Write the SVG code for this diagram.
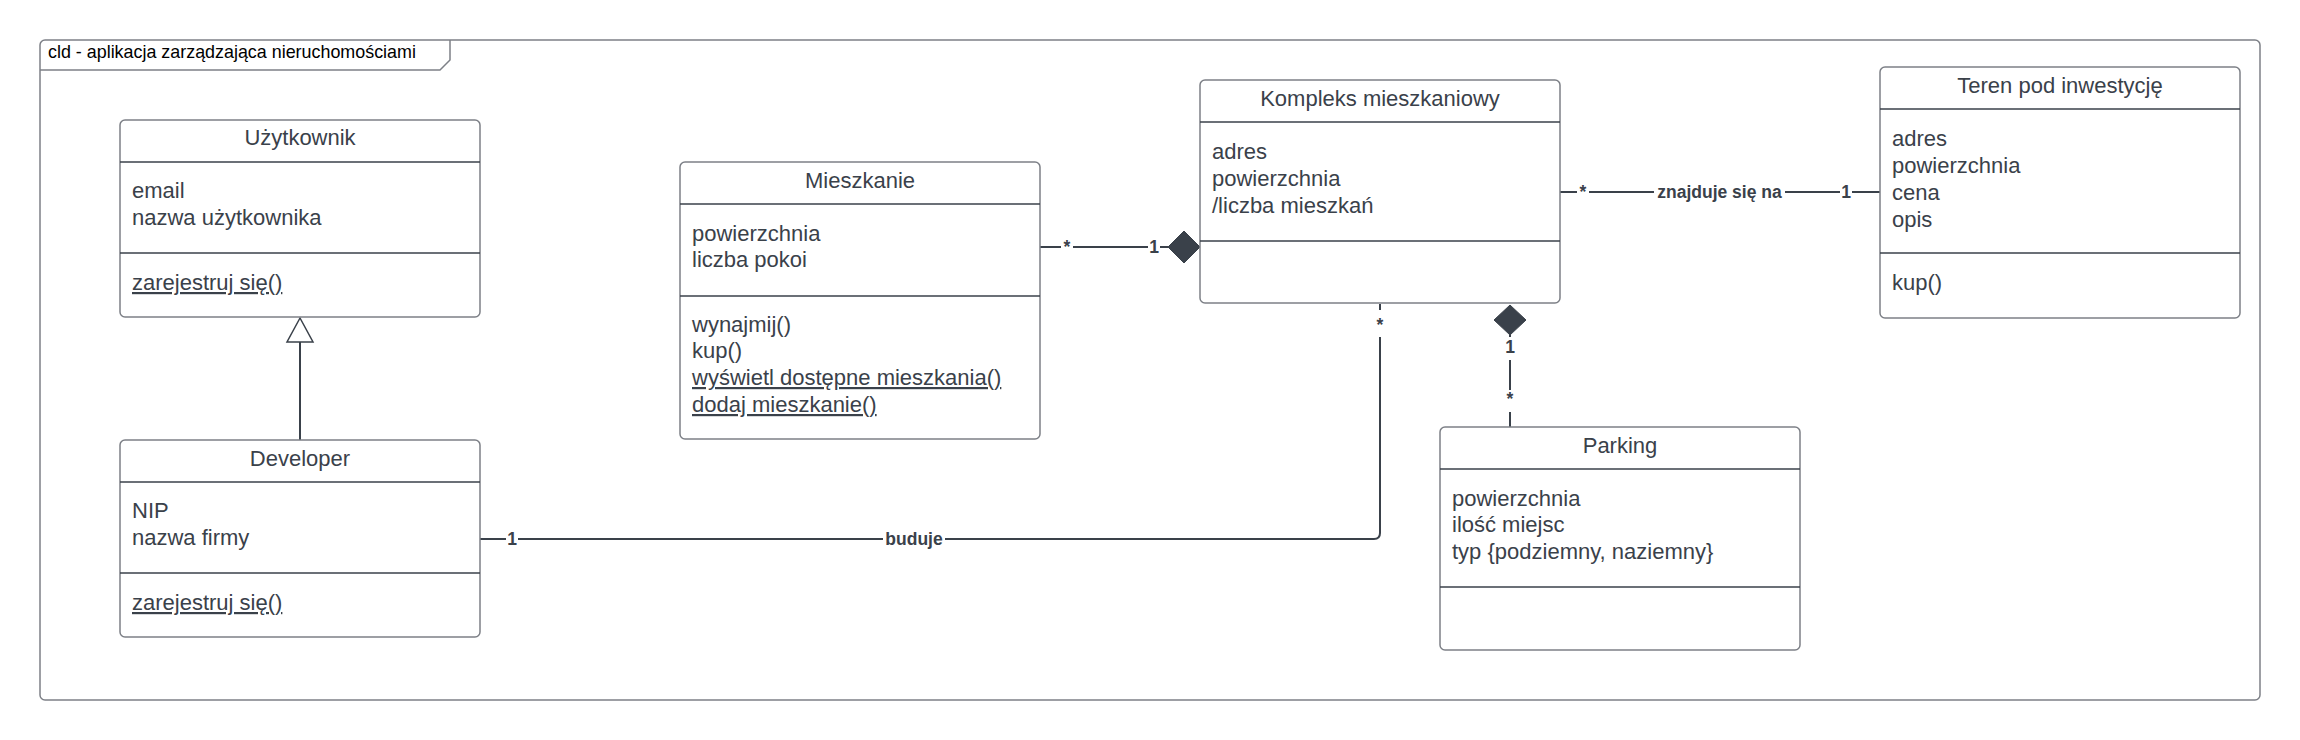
<svg xmlns="http://www.w3.org/2000/svg" width="2300" height="740" viewBox="0 0 2300 740">
<style>
.box{fill:#fff;stroke:#7d8087;stroke-width:1.5}
.div{stroke:#3a414a;stroke-width:1.5}
.t{font-family:"Liberation Sans",Arial,sans-serif;font-size:22px;fill:#3a414a}
.c{text-anchor:middle}
.u{text-decoration:underline}
.ln{fill:none;stroke:#3a414a;stroke-width:2}
.lb{font-family:"Liberation Sans",Arial,sans-serif;font-size:17.5px;font-weight:bold;fill:#3a414a;text-anchor:middle}
.bg{fill:#fff}
.dia{fill:#3a414a;stroke:#3a414a;stroke-width:1}
</style>
<rect width="2300" height="740" fill="#fff"/>
<g id="frame">
<rect x="40" y="40" width="2220" height="660" rx="5" fill="none" stroke="#7d8087" stroke-width="1.5"/>
<path d="M40,70 H440 L450,60 V40" fill="none" stroke="#7d8087" stroke-width="1.5"/>
<text x="48" y="58" font-family="'Liberation Sans',Arial,sans-serif" font-size="17.9" fill="#000">cld - aplikacja zarządzająca nieruchomościami</text>
</g>
<g id="connectors">
<line class="ln" x1="300" y1="440" x2="300" y2="342" stroke-width="1.5"/>
<polygon points="300,318 287,342 313,342" fill="#fff" stroke="#3a414a" stroke-width="1.5"/>
<line class="ln" x1="1040" y1="247" x2="1170" y2="247"/>
<polygon class="dia" points="1168,247 1184,231 1200,247 1184,263"/>
<rect class="bg" x="1061" y="236" width="12" height="22"/>
<text class="lb" x="1067" y="253">*</text>
<rect class="bg" x="1148" y="236" width="12" height="22"/>
<text class="lb" x="1154" y="253">1</text>
<line class="ln" x1="1560" y1="192" x2="1880" y2="192"/>
<rect class="bg" x="1577" y="181" width="12" height="22"/>
<text class="lb" x="1583" y="198">*</text>
<rect class="bg" x="1654" y="181" width="131" height="22"/>
<text class="lb" x="1719.5" y="198">znajduje się na</text>
<rect class="bg" x="1840" y="181" width="12" height="22"/>
<text class="lb" x="1846" y="198">1</text>
<path class="ln" d="M480,539 H1374 Q1380,539 1380,533 V304"/>
<rect class="bg" x="506" y="528" width="12" height="22"/>
<text class="lb" x="512" y="545">1</text>
<rect class="bg" x="883" y="528" width="62" height="22"/>
<text class="lb" x="914" y="545">buduje</text>
<rect class="bg" x="1372" y="310" width="16" height="27"/>
<text class="lb" x="1380" y="331">*</text>
<line class="ln" x1="1510" y1="335" x2="1510" y2="427"/>
<polygon class="dia" points="1510,305 1526,320 1510,335 1494,320"/>
<rect class="bg" x="1502" y="337" width="16" height="23"/>
<text class="lb" x="1510" y="353">1</text>
<rect class="bg" x="1502" y="390" width="16" height="22"/>
<text class="lb" x="1510" y="405">*</text>
</g>
<g id="uzytkownik">
<rect class="box" x="120" y="120" width="360" height="197" rx="5"/>
<line class="div" x1="120" y1="162" x2="480" y2="162"/>
<line class="div" x1="120" y1="253" x2="480" y2="253"/>
<text class="t c" x="300" y="145">Użytkownik</text>
<text class="t" x="132" y="198">email</text>
<text class="t" x="132" y="225">nazwa użytkownika</text>
<text class="t u" x="132" y="290">zarejestruj się()</text>
</g>
<g id="developer">
<rect class="box" x="120" y="440" width="360" height="197" rx="5"/>
<line class="div" x1="120" y1="482" x2="480" y2="482"/>
<line class="div" x1="120" y1="573" x2="480" y2="573"/>
<text class="t c" x="300" y="466">Developer</text>
<text class="t" x="132" y="518">NIP</text>
<text class="t" x="132" y="545">nazwa firmy</text>
<text class="t u" x="132" y="610">zarejestruj się()</text>
</g>
<g id="mieszkanie">
<rect class="box" x="680" y="162" width="360" height="277" rx="5"/>
<line class="div" x1="680" y1="204" x2="1040" y2="204"/>
<line class="div" x1="680" y1="296" x2="1040" y2="296"/>
<text class="t c" x="860" y="188">Mieszkanie</text>
<text class="t" x="692" y="241">powierzchnia</text>
<text class="t" x="692" y="267">liczba pokoi</text>
<text class="t" x="692" y="332">wynajmij()</text>
<text class="t" x="692" y="358">kup()</text>
<text class="t u" x="692" y="385">wyświetl dostępne mieszkania()</text>
<text class="t u" x="692" y="412">dodaj mieszkanie()</text>
</g>
<g id="kompleks">
<rect class="box" x="1200" y="80" width="360" height="223" rx="5"/>
<line class="div" x1="1200" y1="122" x2="1560" y2="122"/>
<line class="div" x1="1200" y1="241" x2="1560" y2="241"/>
<text class="t c" x="1380" y="106">Kompleks mieszkaniowy</text>
<text class="t" x="1212" y="159">adres</text>
<text class="t" x="1212" y="186">powierzchnia</text>
<text class="t" x="1212" y="213">/liczba mieszkań</text>
</g>
<g id="teren">
<rect class="box" x="1880" y="67" width="360" height="251" rx="5"/>
<line class="div" x1="1880" y1="109" x2="2240" y2="109"/>
<line class="div" x1="1880" y1="253" x2="2240" y2="253"/>
<text class="t c" x="2060" y="93">Teren pod inwestycję</text>
<text class="t" x="1892" y="146">adres</text>
<text class="t" x="1892" y="173">powierzchnia</text>
<text class="t" x="1892" y="200">cena</text>
<text class="t" x="1892" y="227">opis</text>
<text class="t" x="1892" y="290">kup()</text>
</g>
<g id="parking">
<rect class="box" x="1440" y="427" width="360" height="223" rx="5"/>
<line class="div" x1="1440" y1="469" x2="1800" y2="469"/>
<line class="div" x1="1440" y1="587" x2="1800" y2="587"/>
<text class="t c" x="1620" y="453">Parking</text>
<text class="t" x="1452" y="506">powierzchnia</text>
<text class="t" x="1452" y="532">ilość miejsc</text>
<text class="t" x="1452" y="559">typ {podziemny, naziemny}</text>
</g>
</svg>
